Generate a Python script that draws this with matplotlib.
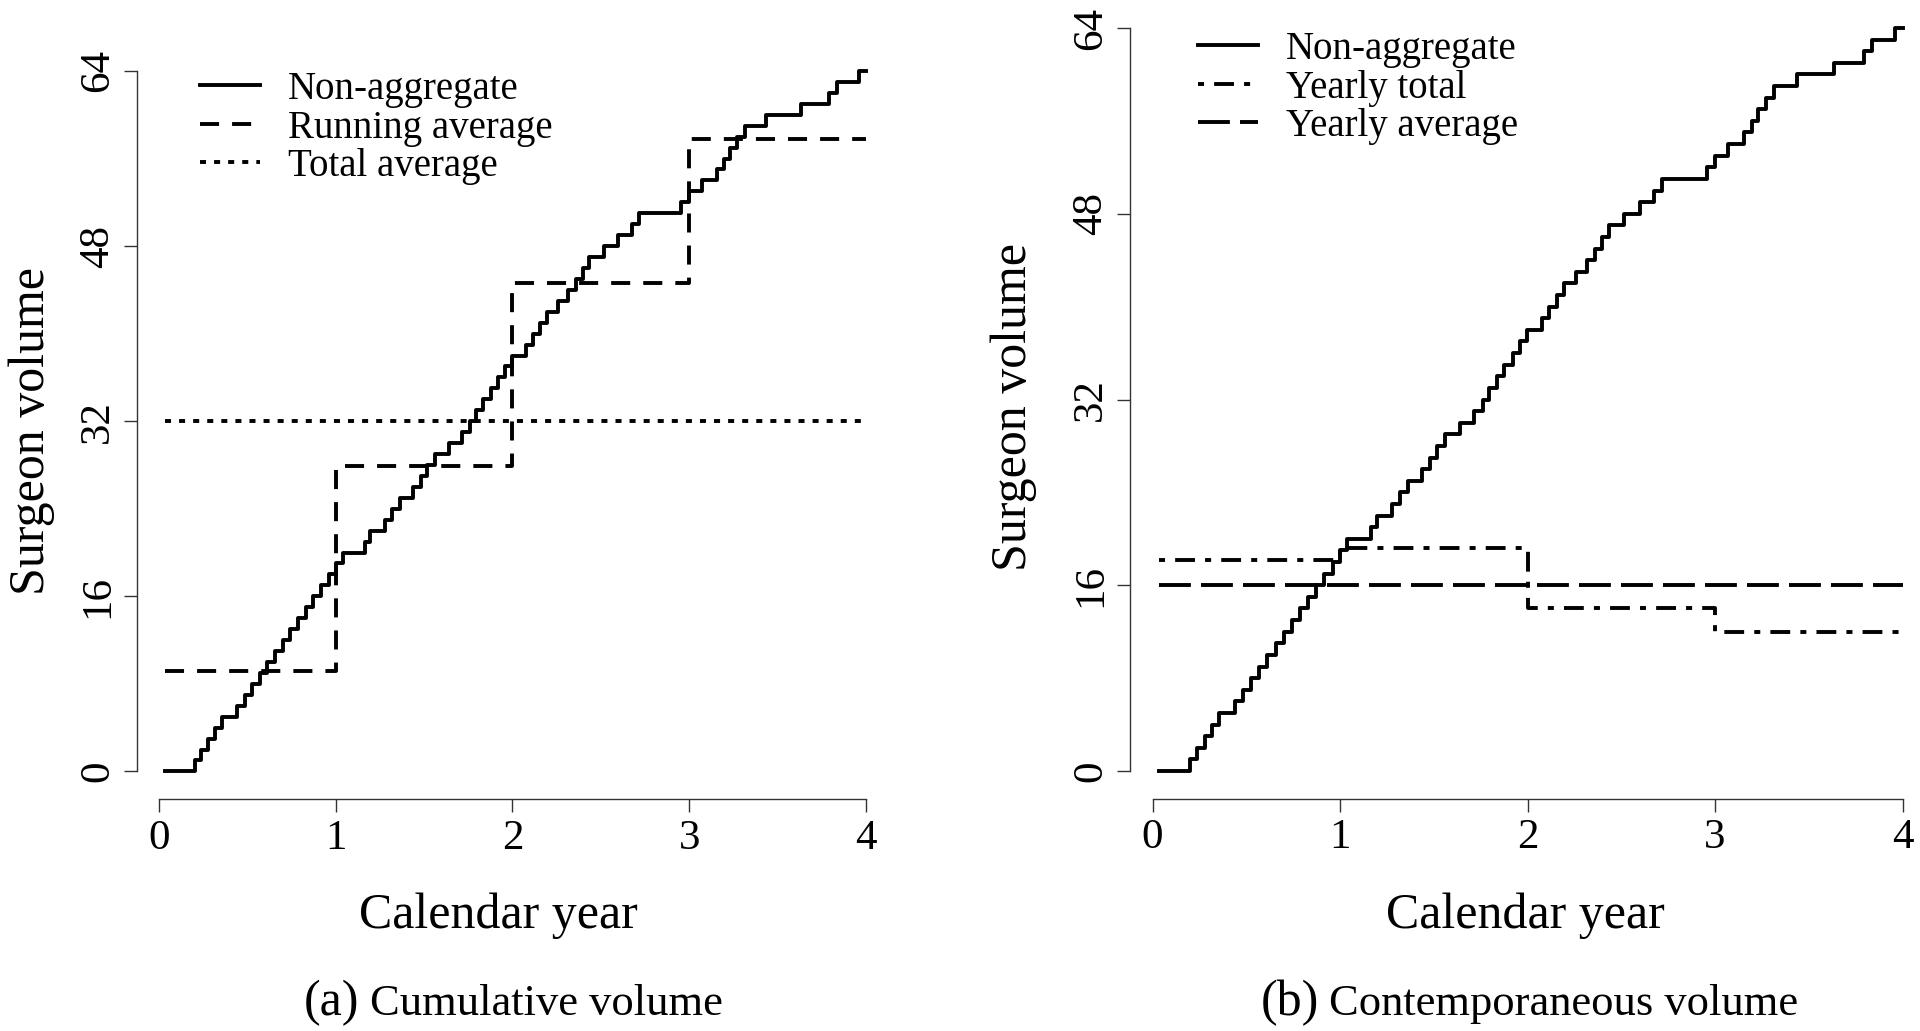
import numpy as np
import matplotlib as mpl
mpl.use('Agg')
import matplotlib.pyplot as plt
from matplotlib.lines import Line2D

plt.rcParams['font.family'] = ['Liberation Serif', 'DejaVu Serif']


### data (time in calendar years, volume = number of cases)
first_day = 0.035          # start of follow-up
case_times = np.array([    # one entry per case
	0.200, 0.239, 0.279, 0.318, 0.357, 0.440, 0.483, 0.527, 0.570, 0.613,
	0.657, 0.700, 0.743, 0.787, 0.830, 0.873, 0.917, 0.960,
	1.000, 1.039, 1.164, 1.196, 1.276, 1.320, 1.365, 1.436, 1.480, 1.519,
	1.560, 1.640, 1.715, 1.761, 1.796, 1.836, 1.876, 1.921, 1.960, 1.999,
	2.076, 2.116, 2.156, 2.197, 2.256, 2.316, 2.360, 2.399, 2.436, 2.516,
	2.600, 2.676, 2.716, 2.956,
	3.000, 3.071, 3.156, 3.196, 3.231, 3.272, 3.315, 3.436, 3.636, 3.795,
	3.836, 3.960,
])
years = np.array([0, 1, 2, 3, 4])
running_avg = np.array([9.2, 27.9, 44.6, 57.8])
total_avg = 32
yearly_total = np.array([18.2, 19.2, 14, 12])
yearly_avg = 16

yticks = [0, 16, 32, 48, 64]


### layout helpers (pixel positions of the 1920x1031 figure)
W, H = 1920, 1031
def fx(px): return px / W
def fy(py): return 1 - py / H


fig = plt.figure(figsize=(19.2, 10.31), dpi=100)
ax1 = fig.add_axes([fx(159.2), fy(771.4), fx(865.7) - fx(159.2), fy(71) - fy(771.4)])
ax2 = fig.add_axes([fx(1152.5), fy(771), fx(1902.5) - fx(1152.5), fy(28) - fy(771)])

lw = 2.8
st_solid = '-'
st_dash = (0, (4.9, 3.35))
st_dot = (0, (1.55, 2.07))
st_dashdot = (0, (1.55, 2.6, 5.1, 2.6))
st_longdash = (0, (8.2, 2.6))

# step curve of the cumulative volume
cum_x = np.concatenate([[first_day], case_times, [4]])
cum_y = np.concatenate([[0], np.arange(1, len(case_times) + 1), [len(case_times)]])

# year-wise step series
step_x = np.concatenate([[first_day], years[1:]])
run_y = np.concatenate([running_avg, running_avg[-1:]])
tot_y = np.concatenate([yearly_total, yearly_total[-1:]])

kw = dict(color='black', lw=lw, clip_on=False)

ax1.plot(cum_x, cum_y, drawstyle='steps-post', ls=st_solid, **kw)
ax1.plot(step_x, run_y, drawstyle='steps-post', ls=st_dash, **kw)
ax1.plot([first_day, 4], [total_avg, total_avg], ls=st_dot, **kw)

ax2.plot(cum_x, cum_y, drawstyle='steps-post', ls=st_solid, **kw)
ax2.plot(step_x, tot_y, drawstyle='steps-post', ls=st_dashdot, **kw)
ax2.plot([first_day, 4], [yearly_avg, yearly_avg], ls=st_longdash, **kw)


for ax, off in [(ax1, 22), (ax2, 22.5)]:
	ax.set_xlim(0, 4)
	ax.set_ylim(0, 64)
	ax.patch.set_visible(False)
	for s in ['top', 'right']:
		ax.spines[s].set_visible(False)
	ax.spines['left'].set_position(('outward', off * 0.72))
	ax.spines['bottom'].set_position(('outward', 28 * 0.72))
	ax.spines['left'].set_bounds(0, 64)
	ax.spines['bottom'].set_bounds(0, 4)
	for s in ['left', 'bottom']:
		ax.spines[s].set_linewidth(1.0)
		ax.spines[s].set_color('#333333')
	ax.set_xticks(years)
	ax.set_yticks(yticks)
	ax.tick_params(direction='out', length=9.3, width=1.0, color='#333333',
	               labelsize=31, pad=5)
	for lab in ax.get_yticklabels():
		lab.set_rotation(90)
		lab.set_va('center')


### legends
leg_kw = dict(loc='upper left', bbox_transform=fig.transFigure, frameon=False,
              fontsize=28, handlelength=1.54, handletextpad=0.72,
              labelspacing=0.04, borderpad=0, borderaxespad=0)
h1 = [Line2D([], [], color='black', lw=lw, ls=s) for s in (st_solid, st_dash, st_dot)]
ax1.legend(h1, ['Non-aggregate', 'Running average', 'Total average'],
           bbox_to_anchor=(fx(200), fy(71)), **leg_kw)
h2 = [Line2D([], [], color='black', lw=lw, ls=s) for s in (st_solid, st_dashdot, st_longdash)]
ax2.legend(h2, ['Non-aggregate', 'Yearly total', 'Yearly average'],
           bbox_to_anchor=(fx(1198), fy(31)), **leg_kw)


### axis labels and captions
fig.text(fx(498), fy(916), 'Calendar year', fontsize=36, ha='center', va='center')
fig.text(fx(1525), fy(916), 'Calendar year', fontsize=36, ha='center', va='center')
fig.text(fx(32), fy(431), 'Surgeon volume', fontsize=36, ha='center', va='center', rotation=90)
fig.text(fx(1014), fy(407), 'Surgeon volume', fontsize=36, ha='center', va='center', rotation=90)

fig.text(fx(359), fy(1015), '(a)', fontsize=36, ha='right', va='baseline')
fig.text(fx(370), fy(1015), 'Cumulative volume', fontsize=32, ha='left', va='baseline')
fig.text(fx(1319), fy(1015), '(b)', fontsize=36, ha='right', va='baseline')
fig.text(fx(1329), fy(1015), 'Contemporaneous volume', fontsize=32, ha='left', va='baseline')

fig.savefig('out.png', dpi=100)
